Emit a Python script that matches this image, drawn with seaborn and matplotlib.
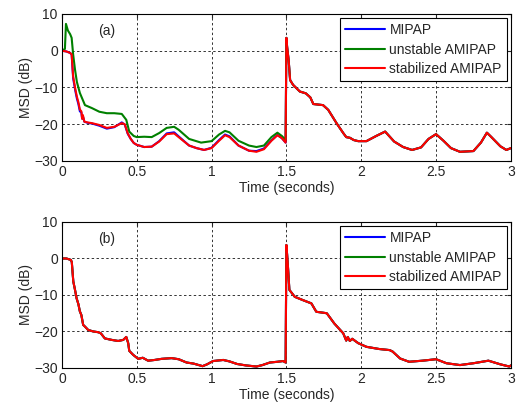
import pandas as pd
import matplotlib
matplotlib.use('Agg')
import matplotlib.pyplot as plt
import seaborn as sns

# panel (a): curves before the switch at t = 1.5 s
t_red_pre = [0, 0.03, 0.055, 0.065, 0.075, 0.09, 0.1, 0.11, 0.12, 0.13, 0.135, 0.14, 0.15, 0.17, 0.2,
             0.25, 0.3, 0.35, 0.4, 0.42, 0.44, 0.46, 0.48, 0.5, 0.55, 0.6, 0.65, 0.7, 0.75, 0.78,
             0.85, 0.9, 0.95, 1.0, 1.05, 1.09, 1.12, 1.18, 1.25, 1.3, 1.35, 1.4, 1.44, 1.47, 1.495]
stab_pre = [0, -0.2, -0.6, -1, -7, -10.5, -12.5, -14, -16, -16.5, -18.5, -17.5, -19.3, -19.5, -19.7,
            -20.2, -21, -20.7, -19.7, -20, -22.5, -24, -25.1, -25.6, -26.2, -26.1, -24.7, -22.7, -22.5, -23.5,
            -25.8, -26.5, -27, -26.5, -24.5, -23, -23.5, -25.8, -27.2, -27.5, -26.8, -24.5, -23, -23.8, -25]
mipap_pre = [0, -0.2, -0.6, -1, -7.5, -11, -13, -14.5, -16.5, -16.8, -18.5, -17.8, -19.3, -19.6, -19.8,
             -20.4, -21.2, -20.8, -19.5, -20.1, -22.6, -24, -25.1, -25.6, -26.2, -26.1, -24.6, -22.5, -22.2, -23.3,
             -25.8, -26.5, -27, -26.4, -24.3, -22.8, -23.3, -25.8, -27.2, -27.3, -26.6, -24.4, -22.9, -23.8, -25]
t_green_pre = [0, 0.02, 0.027, 0.04, 0.055, 0.065, 0.075, 0.087, 0.1, 0.12, 0.154, 0.2, 0.25, 0.3,
               0.35, 0.4, 0.43, 0.45, 0.48, 0.5, 0.55, 0.6, 0.65, 0.7, 0.75, 0.78, 0.85, 0.93, 1.0,
               1.05, 1.09, 1.12, 1.18, 1.25, 1.3, 1.35, 1.4, 1.44, 1.47, 1.495]
unstab_pre = [0, 0.5, 7.3, 5.5, 4.5, 3.5, -1, -5, -8.5, -11.5, -14.8, -15.6, -16.6, -17,
              -17, -17.2, -18.8, -22, -23.2, -23.5, -23.4, -23.5, -22.4, -21, -20.7, -21.5, -24, -25, -24.6,
              -22.8, -21.8, -22.2, -24.5, -25.8, -26.2, -25.8, -23.5, -22.3, -23.2, -24.3]

# panel (a): after the switch all three curves coincide
t_post = [1.5, 1.505, 1.515, 1.525, 1.545, 1.59, 1.63, 1.66, 1.68, 1.745, 1.78, 1.835, 1.88, 1.9,
          1.925, 1.95, 1.98, 2.035, 2.1, 2.16, 2.22, 2.28, 2.34, 2.4, 2.45, 2.5, 2.55, 2.6, 2.66,
          2.75, 2.8, 2.84, 2.87, 2.93, 2.97, 3.0]
msd_post = [3.5, 1, -2.5, -8, -9.3, -11.1, -11.6, -12.7, -14.5, -14.8, -16.1, -19.7, -22.4, -23.5,
            -23.7, -24.3, -24.6, -24.6, -23.2, -22, -24.7, -26.2, -27, -26.3, -24, -22.7, -24.5, -26.5, -27.5,
            -27.3, -25, -22.3, -23.5, -26, -27, -26.5]

# panel (b): the three algorithms overlap
t_b = [0, 0.03, 0.06, 0.066, 0.076, 0.087, 0.098, 0.11, 0.12, 0.13, 0.142, 0.15, 0.176, 0.21, 0.243,
       0.26, 0.287, 0.332, 0.376, 0.41, 0.43, 0.443, 0.45, 0.476, 0.51, 0.54, 0.576, 0.62, 0.666, 0.733,
       0.78, 0.833, 0.88, 0.94, 0.97, 1.01, 1.078, 1.12, 1.17, 1.23, 1.3, 1.34, 1.39, 1.44, 1.478,
       1.495, 1.5, 1.505, 1.51, 1.52, 1.556, 1.61, 1.667, 1.70, 1.77, 1.82, 1.88, 1.9, 1.91, 1.924,
       1.94, 1.98, 2.035, 2.12, 2.19, 2.21, 2.26, 2.32, 2.41, 2.5, 2.57, 2.66, 2.75, 2.85, 2.93, 2.99, 3.0]
msd_b = [0, 0, -0.4, -1, -6.3, -8.5, -10.9, -12.5, -14.5, -15.5, -18.2, -18.5, -19.6, -20, -20.2,
         -20.5, -21.9, -22.3, -22.6, -22.3, -21.5, -23.2, -25.3, -26.4, -27.5, -27.2, -28, -27.8, -27.5, -27.3,
         -27.6, -28.5, -28.8, -29.5, -29, -28.1, -27.8, -28.2, -28.9, -29.3, -29.6, -29.2, -28.5, -28.3, -28.1,
         -28.5, 3.7, 1, -1.9, -8.6, -10.5, -11.4, -12.3, -14.6, -15, -17.8, -20.5, -22.5, -21.5, -22.6,
         -22, -23.2, -24.2, -24.8, -25.1, -25.5, -27.4, -28.3, -28, -27.6, -28.7, -29.2, -28.7, -28, -29, -29.6, -29.3]

labels = ['MIPAP', 'unstable AMIPAP', 'stabilized AMIPAP']
colors = ['#0000ff', '#008000', '#ff0000']
xticks = [0, 0.5, 1, 1.5, 2, 2.5, 3]
xticklabels = ['0', '0.5', '1', '1.5', '2', '2.5', '3']
yticks = [-30, -20, -10, 0, 10]

sns.set_style('white')
plt.rcParams['font.family'] = ['Liberation Sans', 'DejaVu Sans']
plt.rcParams['font.size'] = 10

fig = plt.figure(figsize=(5.16, 4.05), dpi=100)
ax_a = fig.add_axes([0.120, 0.6025, 0.870, 0.363])
ax_b = fig.add_axes([0.120, 0.0914, 0.870, 0.3605])

curves_a = [
    (t_red_pre + t_post, mipap_pre + msd_post),
    (t_green_pre + t_post, unstab_pre + msd_post),
    (t_red_pre + t_post, stab_pre + msd_post),
]
curves_b = [(t_b, msd_b)] * 3

for ax, curves, tag in [(ax_a, curves_a, '(a)'), (ax_b, curves_b, '(b)')]:
    for (t, v), lab, col in zip(curves, labels, colors):
        df = pd.DataFrame({'t': t, 'msd': v})
        sns.lineplot(data=df, x='t', y='msd', ax=ax, color=col, label=lab,
                     estimator=None, sort=False, linewidth=1.5)
    ax.set_xlim(0, 3)
    ax.set_ylim(-30, 10)
    ax.set_xticks(xticks)
    ax.set_xticklabels(xticklabels)
    ax.set_yticks(yticks)
    ax.grid(True, color='black', linestyle=(0, (2.5, 2.5)), linewidth=0.7, alpha=0.8)
    ax.tick_params(direction='in', length=3, top=True, right=True, labelsize=10, pad=3)
    for s in ax.spines.values():
        s.set_color('black')
        s.set_linewidth(0.8)
    ax.set_xlabel('Time (seconds)', fontsize=10, labelpad=1)
    ax.set_ylabel('MSD (dB)', fontsize=10, labelpad=1)
    ax.text(0.3, 5.3, tag, fontsize=10, ha='center', va='center')
    leg = ax.legend(loc='upper right', fontsize=10, frameon=True, fancybox=False,
                    framealpha=1, edgecolor='black', handlelength=2.9,
                    borderaxespad=0.3, labelspacing=0.4, handletextpad=0.3, borderpad=0.35)
    leg.get_frame().set_linewidth(0.8)

fig.savefig('out.png', dpi=100)
